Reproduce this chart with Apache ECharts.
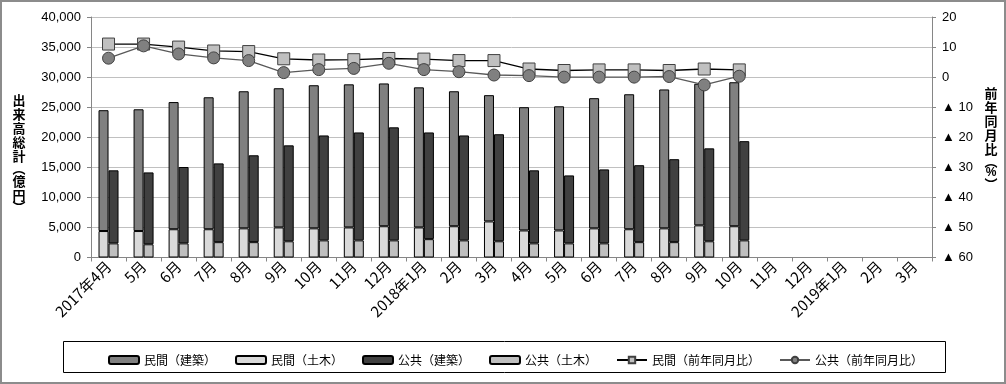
<!DOCTYPE html>
<html>
<head>
<meta charset="utf-8">
<script src="https://cdn.jsdelivr.net/npm/echarts@6/dist/echarts.min.js"></script>
<style>
html,body{margin:0;padding:0;background:#fff;}
#chart{width:1006px;height:384px;}
</style>
</head>
<body>
<div id="chart"></div>
<script>
// ---- data ----
const categories = ['2017年4月','5月','6月','7月','8月','9月','10月','11月','12月','2018年1月','2月','3月',
  '4月','5月','6月','7月','8月','9月','10月','11月','12月','2019年1月','2月','3月'];
const seriesNames = ['民間（建築）','民間（土木）','公共（建築）','公共（土木）','民間（前年同月比）','公共（前年同月比）'];
// 億円
const privateBuilding = [20100,20250,21150,21950,22800,23150,23800,23800,23750,23300,22450,21000,20500,20650,21650,22450,23100,23550,23950];
const privateCivil    = [4400,4400,4700,4700,4850,5000,4850,5000,5200,5000,5200,6000,4500,4500,4850,4700,4850,5350,5200];
const publicBuilding  = [12150,11950,12700,13100,14450,15950,17450,17950,18800,17750,17450,17800,12150,11300,12300,12800,13800,15450,16500];
const publicCivil     = [2350,2200,2350,2550,2550,2700,2850,2850,2850,3050,2850,2700,2350,2350,2350,2550,2550,2700,2850];
// 前年同月比 (%)
const privateYoY = [11.0,11.0,10.0,8.7,8.5,6.1,5.7,5.8,6.2,6.0,5.5,5.5,2.7,2.2,2.4,2.4,2.2,2.7,2.4];
const publicYoY  = [6.3,10.4,7.7,6.4,5.5,1.5,2.5,2.9,4.6,2.5,1.8,0.7,0.5,0.0,0.0,0.0,0.2,-2.6,0.3];
const leftTicks = {min:0, max:40000, interval:5000};
const rightTicks = {min:-60, max:20, interval:10};
const leftTitleChars = ['出','来','高','総','計','︵','億','円','︶'];
const rightTitleChars = ['前','年','同','月','比','︵','%','︶'];

function pad(arr){ const a = arr.slice(); while(a.length < categories.length) a.push(null); return a; }
function commas(v){ return String(v).replace(/\B(?=(\d{3})+(?!\d))/g, ','); }
function vertical(chars){
  return chars.map(c => (c === '︵' ? '{po|' + c + '}' : c === '︶' ? '{pc|' + c + '}' : (c === '%' ? '{s|%}' : '{c|' + c + '}'))).join('\n');
}

const FONT = '"Noto Sans CJK JP", "Noto Sans", sans-serif';
const NUMFONT = '"Liberation Sans", Arial, sans-serif';
const titleRich = {
  c:{fontSize:13, fontWeight:'bold', lineHeight:14, fontFamily:FONT, fill:'#000'},
  po:{fontSize:13, fontWeight:'bold', lineHeight:11, fontFamily:FONT, fill:'#000'},
  pc:{fontSize:13, fontWeight:'bold', lineHeight:11, fontFamily:FONT, fill:'#000'},
  s:{fontSize:12, fontWeight:'bold', lineHeight:12, fontFamily:NUMFONT, fill:'#000'}
};
const chart = echarts.init(document.getElementById('chart'), null, {renderer:'canvas'});
const barBase = {type:'bar', barWidth:10, barGap:'0%', yAxisIndex:0};
chart.setOption({
  animation:false,
  textStyle:{fontFamily:FONT},
  grid:{left:91, right:74, top:17, bottom:126.5, containLabel:false},
  legend:{
    top:349, left:103, itemWidth:30, itemHeight:8, itemGap:19,
    textStyle:{fontSize:12, color:'#000', fontFamily:FONT},
    data:seriesNames
  },
  graphic:[
    {type:'rect', silent:true, shape:{x:1,y:1,width:1004,height:382}, style:{fill:'none', stroke:'#8c8c8c', lineWidth:2}},
    {type:'rect', silent:true, shape:{x:63.5,y:341.5,width:882,height:31}, style:{fill:'none', stroke:'#000', lineWidth:1}},
    {type:'text', silent:true, x:19, y:153, style:{text:vertical(leftTitleChars), rich:titleRich, align:'center', verticalAlign:'middle'}},
    {type:'text', silent:true, x:991, y:138, style:{text:vertical(rightTitleChars), rich:titleRich, align:'center', verticalAlign:'middle'}}
  ],
  xAxis:{
    type:'category', data:categories, boundaryGap:true,
    axisLine:{lineStyle:{color:'#868686'}},
    axisTick:{show:true, length:4, lineStyle:{color:'#868686'}},
    axisLabel:{rotate:45, margin:6, fontSize:15, color:'#000', interval:0, fontFamily:FONT}
  },
  yAxis:[
    {type:'value', min:leftTicks.min, max:leftTicks.max, interval:leftTicks.interval, position:'left',
     axisLine:{show:true, lineStyle:{color:'#868686'}},
     axisTick:{show:true, length:4, lineStyle:{color:'#868686'}},
     splitLine:{show:true, lineStyle:{color:'#c0c0c0'}},
     axisLabel:{fontSize:13, color:'#000', margin:10, formatter:v=>commas(v), fontFamily:NUMFONT}},
    {type:'value', min:rightTicks.min, max:rightTicks.max, interval:rightTicks.interval, position:'right',
     axisLine:{show:true, lineStyle:{color:'#868686'}},
     axisTick:{show:true, length:4, inside:false, lineStyle:{color:'#868686'}},
     splitLine:{show:false},
     axisLabel:{fontSize:13, color:'#000', margin:10, align:'left',
       formatter:v=> v<0 ? '▲ ' + (-v) : String(v), fontFamily:NUMFONT}}
  ],
  series:[
    Object.assign({}, barBase, {name:seriesNames[1], stack:'private', data:pad(privateCivil),
      itemStyle:{color:'#d9d9d9', borderColor:'#000', borderWidth:1}}),
    Object.assign({}, barBase, {name:seriesNames[0], stack:'private', data:pad(privateBuilding),
      itemStyle:{color:'#808080', borderColor:'#000', borderWidth:1}}),
    Object.assign({}, barBase, {name:seriesNames[3], stack:'public', data:pad(publicCivil),
      itemStyle:{color:'#bfbfbf', borderColor:'#000', borderWidth:1}}),
    Object.assign({}, barBase, {name:seriesNames[2], stack:'public', data:pad(publicBuilding),
      itemStyle:{color:'#404040', borderColor:'#000', borderWidth:1}}),
    {type:'line', name:seriesNames[4], yAxisIndex:1, data:pad(privateYoY), symbol:'rect', symbolSize:12,
      lineStyle:{color:'#000', width:1.3}, itemStyle:{color:'#c0c0c0', borderColor:'#404040', borderWidth:1}, z:5},
    {type:'line', name:seriesNames[5], yAxisIndex:1, data:pad(publicYoY), symbol:'circle', symbolSize:12,
      lineStyle:{color:'#595959', width:1.3}, itemStyle:{color:'#808080', borderColor:'#404040', borderWidth:1}, z:6}
  ]
});
</script>
</body>
</html>
